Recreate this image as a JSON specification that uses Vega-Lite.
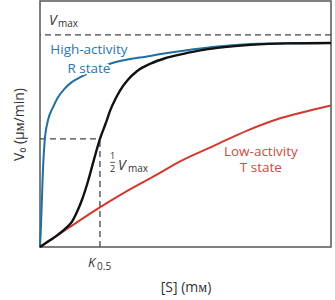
{
  "$schema": "https://vega.github.io/schema/vega-lite/v6.json",
  "autosize": {"type": "none"},
  "padding": {"left": 40, "top": 1, "right": 4, "bottom": 53},
  "width": 291,
  "height": 246,
  "background": "white",
  "config": {
    "view": {"stroke": "#555555", "strokeWidth": 1.5},
    "font": "Open Sans",
    "axis": {"domain": false, "ticks": false, "labels": false, "grid": false, "titleFont": "Open Sans", "titleFontSize": 14, "titleFontWeight": "normal", "titleColor": "#333333"}
  },
  "data": {"values": [{}]},
  "datasets": {
    "rstate": [
      {"s": 0, "v": 0}, {"s": 0.03, "v": 0.09}, {"s": 0.06, "v": 0.2}, {"s": 0.1, "v": 0.36},
      {"s": 0.16, "v": 0.5}, {"s": 0.27, "v": 0.595}, {"s": 0.45, "v": 0.66}, {"s": 0.62, "v": 0.706},
      {"s": 0.85, "v": 0.747}, {"s": 1.07, "v": 0.775}, {"s": 1.37, "v": 0.8}, {"s": 2.41, "v": 0.864},
      {"s": 3.79, "v": 0.901}, {"s": 4.93, "v": 0.925}, {"s": 6.1, "v": 0.945}, {"s": 7.24, "v": 0.957},
      {"s": 8.5, "v": 0.961}, {"s": 10, "v": 0.962}
    ],
    "tstate": [
      {"s": 0, "v": 0}, {"s": 1, "v": 0.092}, {"s": 2.07, "v": 0.188}, {"s": 3, "v": 0.265},
      {"s": 4, "v": 0.34}, {"s": 4.83, "v": 0.405}, {"s": 5.97, "v": 0.477}, {"s": 7.14, "v": 0.55},
      {"s": 8.28, "v": 0.608}, {"s": 9.41, "v": 0.648}, {"s": 10, "v": 0.667}
    ],
    "sigmoid": [
      {"s": 0, "v": 0}, {"s": 0.3, "v": 0.028}, {"s": 0.6, "v": 0.056}, {"s": 0.9, "v": 0.09},
      {"s": 1.1, "v": 0.12}, {"s": 1.27, "v": 0.165}, {"s": 1.45, "v": 0.225}, {"s": 1.65, "v": 0.31},
      {"s": 1.85, "v": 0.41}, {"s": 2.06, "v": 0.51}, {"s": 2.25, "v": 0.58}, {"s": 2.41, "v": 0.643},
      {"s": 2.6, "v": 0.7}, {"s": 2.76, "v": 0.74}, {"s": 3.0, "v": 0.785}, {"s": 3.34, "v": 0.83},
      {"s": 3.79, "v": 0.864}, {"s": 4.3, "v": 0.89}, {"s": 4.93, "v": 0.911}, {"s": 5.5, "v": 0.927},
      {"s": 6.1, "v": 0.939}, {"s": 7.24, "v": 0.953}, {"s": 8.5, "v": 0.96}, {"s": 10, "v": 0.962}
    ]
  },
  "encoding": {
    "x": {"type": "quantitative", "scale": {"domain": [0, 10], "nice": false, "zero": false}, "axis": {"title": "[S] (mᴍ)", "titlePadding": 33}},
    "y": {"type": "quantitative", "scale": {"domain": [0, 1.16], "nice": false, "zero": false}, "axis": {"title": "V₀ (μᴍ/min)", "titlePadding": 14}}
  },
  "layer": [
    {"mark": {"type": "rule", "color": "#444444", "strokeWidth": 1.3, "strokeDash": [6, 4]}, "encoding": {"y": {"datum": 1}}},
    {"mark": {"type": "rule", "color": "#444444", "strokeWidth": 1.3, "strokeDash": [6, 4]}, "encoding": {"y": {"datum": 0.51}, "x": {"datum": 0}, "x2": {"datum": 2.06}}},
    {"mark": {"type": "rule", "color": "#444444", "strokeWidth": 1.3, "strokeDash": [6, 4]}, "encoding": {"x": {"datum": 2.06}, "y": {"datum": 0}, "y2": {"datum": 0.51}}},
    {"data": {"name": "rstate"}, "mark": {"type": "line", "color": "#1f6fa3", "strokeWidth": 2, "interpolate": "monotone"}, "encoding": {"x": {"field": "s", "type": "quantitative"}, "y": {"field": "v", "type": "quantitative"}}},
    {"data": {"name": "tstate"}, "mark": {"type": "line", "color": "#d2382c", "strokeWidth": 2, "interpolate": "monotone"}, "encoding": {"x": {"field": "s", "type": "quantitative"}, "y": {"field": "v", "type": "quantitative"}}},
    {"data": {"name": "sigmoid"}, "mark": {"type": "line", "color": "#111111", "strokeWidth": 2.4, "interpolate": "monotone"}, "encoding": {"x": {"field": "s", "type": "quantitative"}, "y": {"field": "v", "type": "quantitative"}}},
    {"mark": {"type": "text", "text": ["High-activity", "R state"], "lineHeight": 19, "fontSize": 13.5, "color": "white", "stroke": "white", "strokeWidth": 4, "align": "center", "baseline": "middle"}, "encoding": {"x": {"datum": 1.68}, "y": {"datum": 0.929}}},
    {"mark": {"type": "text", "text": ["High-activity", "R state"], "lineHeight": 19, "fontSize": 13.5, "color": "#2a78ad", "align": "center", "baseline": "middle"}, "encoding": {"x": {"datum": 1.68}, "y": {"datum": 0.929}}},
    {"mark": {"type": "text", "text": ["Low-activity", "T state"], "lineHeight": 16.5, "fontSize": 13.5, "color": "#d04a40", "align": "center", "baseline": "middle"}, "encoding": {"x": {"datum": 7.59}, "y": {"datum": 0.448}}},
    {"mark": {"type": "text", "text": "V", "fontSize": 14, "fontStyle": "italic", "color": "#333333", "align": "left", "baseline": "alphabetic"}, "encoding": {"x": {"datum": 0.31}, "y": {"datum": 1.047}}},
    {"mark": {"type": "text", "text": "max", "fontSize": 10, "color": "#333333", "align": "left", "baseline": "alphabetic"}, "encoding": {"x": {"datum": 0.62}, "y": {"datum": 1.038}}},
    {"mark": {"type": "text", "text": "1", "fontSize": 9, "color": "#333333", "align": "center", "baseline": "middle"}, "encoding": {"x": {"datum": 2.49}, "y": {"datum": 0.429}}},
    {"mark": {"type": "rule", "color": "#333333", "strokeWidth": 0.8}, "encoding": {"x": {"datum": 2.41}, "x2": {"datum": 2.58}, "y": {"datum": 0.399}}},
    {"mark": {"type": "text", "text": "2", "fontSize": 9, "color": "#333333", "align": "center", "baseline": "middle"}, "encoding": {"x": {"datum": 2.49}, "y": {"datum": 0.368}}},
    {"mark": {"type": "text", "text": "V", "fontSize": 14, "fontStyle": "italic", "color": "#333333", "align": "left", "baseline": "alphabetic"}, "encoding": {"x": {"datum": 2.68}, "y": {"datum": 0.363}}},
    {"mark": {"type": "text", "text": "max", "fontSize": 10, "color": "#333333", "align": "left", "baseline": "alphabetic"}, "encoding": {"x": {"datum": 3.02}, "y": {"datum": 0.354}}},
    {"mark": {"type": "text", "text": "K", "fontSize": 13, "fontStyle": "italic", "color": "#333333", "align": "left", "baseline": "alphabetic"}, "encoding": {"x": {"datum": 1.65}, "y": {"datum": -0.094}}},
    {"mark": {"type": "text", "text": "0.5", "fontSize": 10, "color": "#333333", "align": "left", "baseline": "alphabetic"}, "encoding": {"x": {"datum": 1.96}, "y": {"datum": -0.108}}}
  ]
}
